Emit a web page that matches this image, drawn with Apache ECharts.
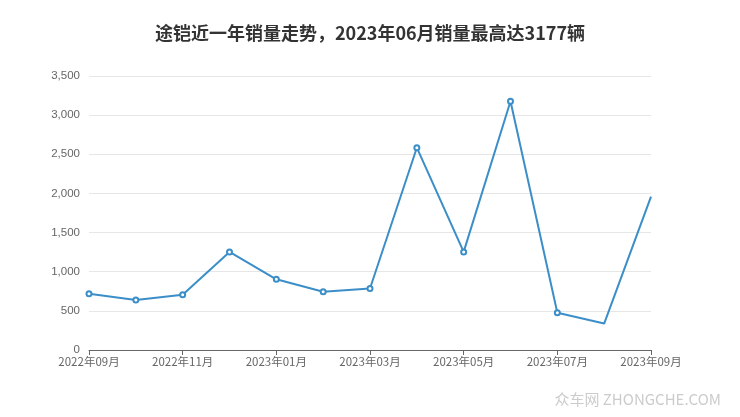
<!DOCTYPE html>
<html><head><meta charset="utf-8">
<script src="https://cdn.jsdelivr.net/npm/echarts@6/dist/echarts.min.js"></script>
<style>html,body{margin:0;padding:0;background:#fff}#c{width:740px;height:417px}</style>
</head><body><div id="c"></div>
<script>
var titleText = '途铠近一年销量走势，2023年06月销量最高达3177辆';
var months = ['2022年09月','2022年10月','2022年11月','2022年12月','2023年01月','2023年02月','2023年03月','2023年04月','2023年05月','2023年06月','2023年07月','2023年08月','2023年09月'];
var sales = [720, 640, 705, 1253, 903, 745, 785, 2584, 1253, 3177, 475, 338, 1958];
var watermark = '众车网 ZHONGCHE.COM';

var chart = echarts.init(document.getElementById('c'));
chart.setOption({
  animation: false,
  title: {
    text: titleText, left: 'center', top: 19,
    textStyle: {fontSize: 18, fontWeight: 'bold', color: '#333', fontFamily: 'Noto Sans CJK SC'}
  },
  graphic: [{
    type: 'text', right: 19, bottom: 10,
    style: {text: watermark, fill: '#cccccc', fontSize: 15, fontFamily: 'Noto Sans CJK SC'}
  }],
  grid: {left: 89, right: 89, top: 76, bottom: 67},
  xAxis: {
    type: 'category', data: months, boundaryGap: false,
    axisLine: {lineStyle: {color: '#666'}},
    axisTick: {interval: 1, lineStyle: {color: '#666'}},
    axisLabel: {interval: 1, color: '#666', fontSize: 11.5, margin: 6, fontFamily: 'Noto Sans CJK SC'}
  },
  yAxis: {
    type: 'value', min: 0, max: 3500, interval: 500,
    axisLine: {show: false}, axisTick: {show: false},
    axisLabel: {color: '#666', fontSize: 11.5, margin: 9},
    splitLine: {lineStyle: {color: '#e6e6e6'}}
  },
  series: [{
    type: 'line', data: sales, showSymbol: true, showAllSymbol: true,
    symbol: 'emptyCircle',
    symbolSize: function (v, p) { return p.dataIndex >= 11 ? 0 : 5; },
    lineStyle: {color: '#3b8ec8', width: 2},
    itemStyle: {color: '#3b8ec8', borderWidth: 1.5}
  }]
});
</script></body></html>
